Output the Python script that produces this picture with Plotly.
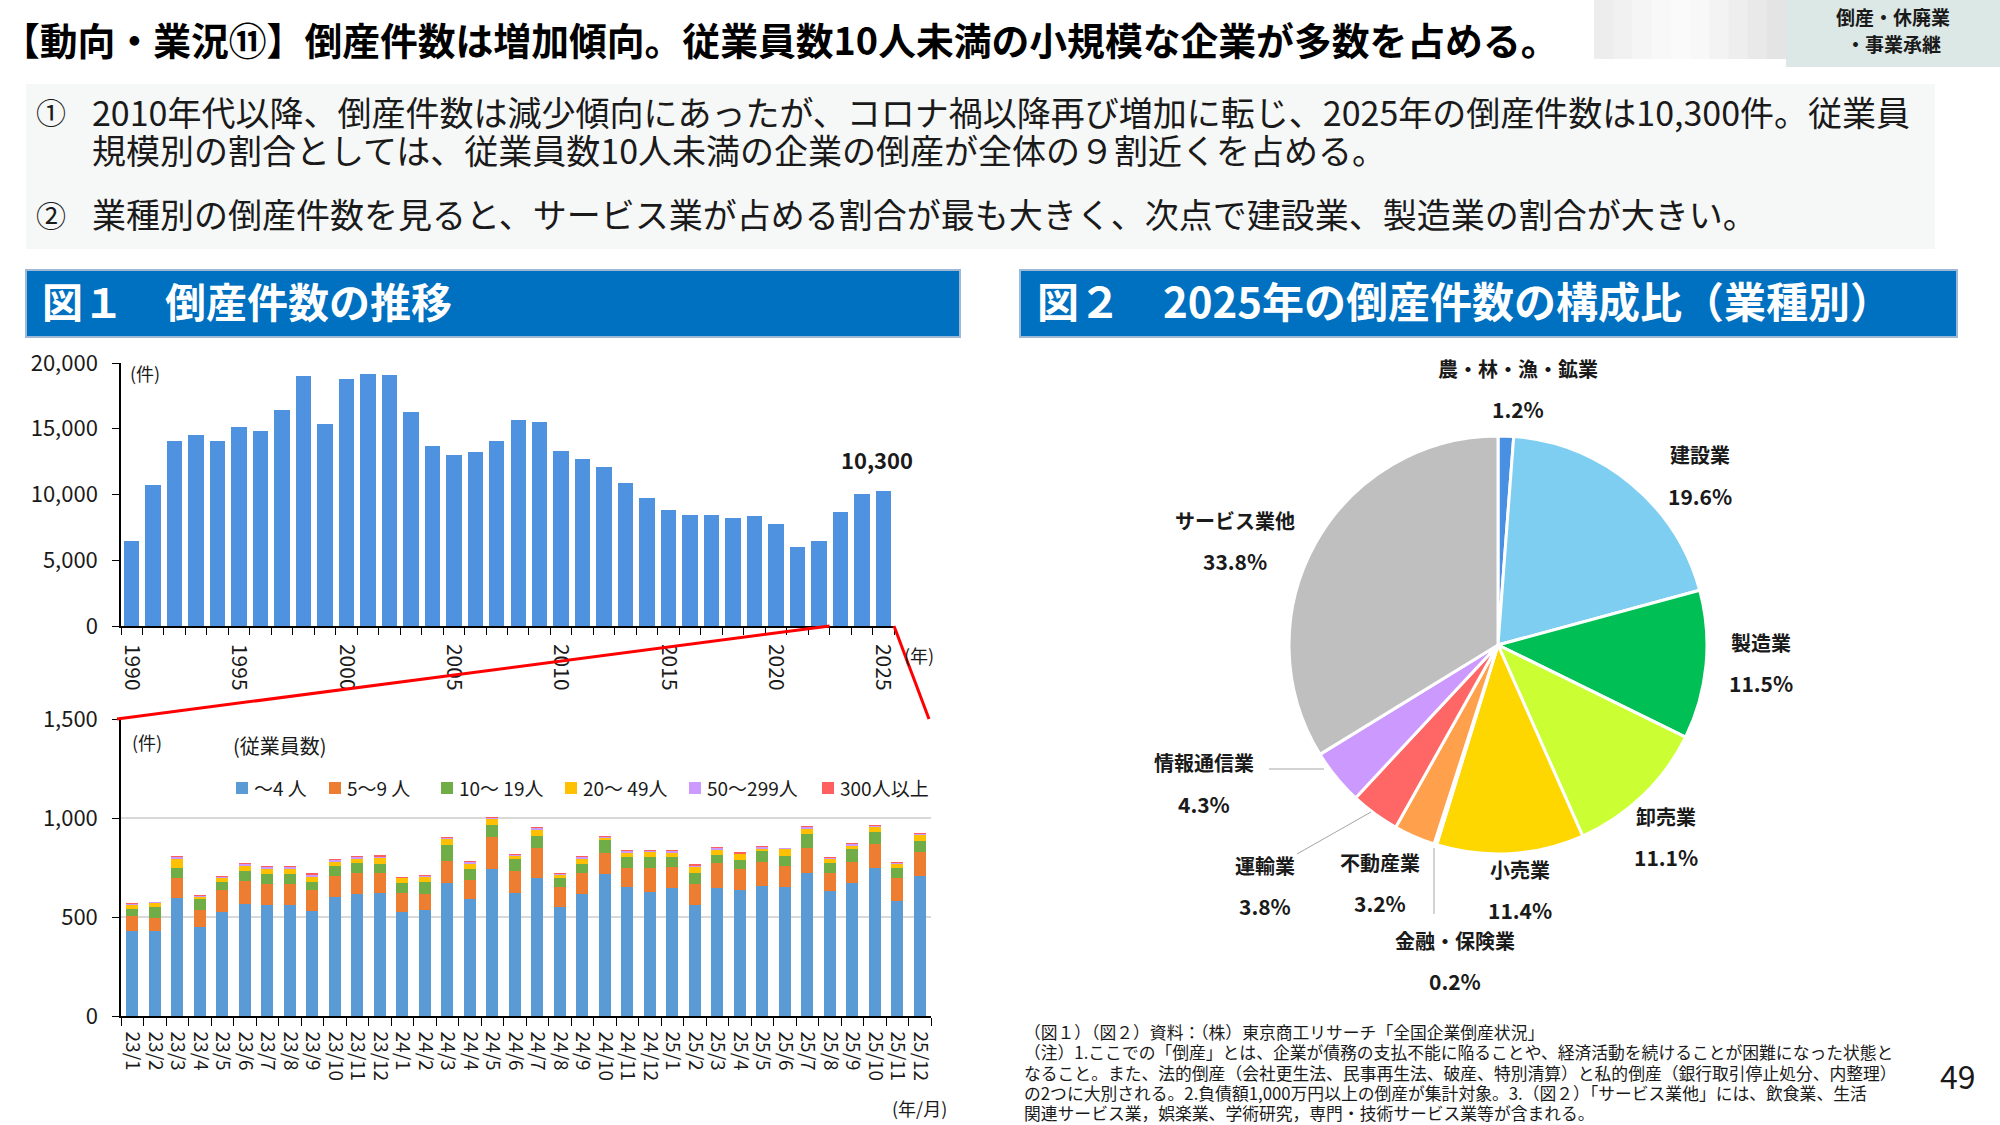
import plotly.graph_objects as go

W, H = 2000, 1125
FONT = "Noto Sans CJK JP"


def px(x):
    return x / W


def py(y):
    return 1 - y / H


# ---------------- data ----------------
years = ["1990", "1991", "1992", "1993", "1994", "1995", "1996", "1997", "1998", "1999",
         "2000", "2001", "2002", "2003", "2004", "2005", "2006", "2007", "2008", "2009",
         "2010", "2011", "2012", "2013", "2014", "2015", "2016", "2017", "2018", "2019",
         "2020", "2021", "2022", "2023", "2024", "2025"]
year_labels = ["1990", "", "", "", "", "1995", "", "", "", "", "2000", "", "", "", "", "2005",
               "", "", "", "", "2010", "", "", "", "", "2015", "", "", "", "", "2020", "", "",
               "", "", "2025"]
annual_counts = [6470, 10720, 14070, 14560, 14060, 15110, 14830, 16460, 18990, 15350,
                 18770, 19160, 19090, 16260, 13680, 13000, 13250, 14090, 15650, 15480,
                 13320, 12730, 12120, 10860, 9730, 8810, 8450, 8410, 8240, 8380,
                 7770, 6030, 6430, 8690, 10010, 10300]

months = ["23/1", "23/2", "23/3", "23/4", "23/5", "23/6", "23/7", "23/8", "23/9", "23/10", "23/11", "23/12",
          "24/1", "24/2", "24/3", "24/4", "24/5", "24/6", "24/7", "24/8", "24/9", "24/10", "24/11", "24/12",
          "25/1", "25/2", "25/3", "25/4", "25/5", "25/6", "25/7", "25/8", "25/9", "25/10", "25/11", "25/12"]
emp_0_4 = [429, 429, 596, 451, 524, 566, 559, 559, 530, 603, 618, 623,
           525, 535, 674, 591, 743, 623, 698, 549, 617, 716, 650, 627,
           647, 559, 647, 635, 657, 650, 723, 630, 671, 747, 579, 706]
emp_5_9 = [76, 64, 100, 86, 111, 118, 110, 107, 105, 105, 103, 98,
           98, 82, 111, 98, 159, 108, 150, 101, 104, 105, 95, 118,
           105, 110, 125, 107, 120, 108, 128, 90, 106, 123, 117, 122]
emp_10_19 = [34, 56, 54, 53, 42, 49, 49, 52, 42, 50, 51, 46,
             48, 59, 78, 54, 63, 61, 61, 46, 48, 69, 56, 59,
             50, 52, 42, 45, 54, 51, 70, 52, 66, 59, 51, 55]
emp_20_49 = [22, 24, 47, 13, 22, 27, 29, 25, 27, 22, 25, 34,
             26, 27, 31, 29, 32, 19, 32, 17, 27, 9, 27, 25,
             26, 34, 29, 32, 15, 36, 28, 24, 20, 27, 22, 33]
emp_50_299 = [6, 1, 9, 6, 6, 8, 9, 12, 12, 9, 8, 7,
              2, 7, 9, 7, 7, 6, 9, 7, 9, 7, 9, 8,
              7, 3, 7, 4, 8, 2, 8, 5, 6, 6, 7, 7]
emp_300_up = [2, 0, 1, 1, 1, 1, 1, 2, 2, 2, 1, 1,
              1, 1, 1, 1, 1, 1, 1, 1, 1, 1, 1, 1,
              1, 6, 1, 1, 1, 0, 1, 1, 1, 1, 1, 1]
emp_names = ["～4 人", "5～9 人", "10～ 19人", "20～ 49人", "50～299人", "300人以上"]
emp_colors = ["#5B9BD5", "#ED7D31", "#70AD47", "#FFC000", "#CC99FF", "#FF5F5F"]
legend_x = [236, 329, 441, 565, 689, 822]   # legend item left edges (px)

industries = ["農・林・漁・鉱業", "建設業", "製造業", "卸売業", "小売業", "金融・保険業",
              "不動産業", "運輸業", "情報通信業", "サービス業他"]
industry_share = [1.2, 19.6, 11.5, 11.1, 11.4, 0.2, 3.2, 3.8, 4.3, 33.8]
industry_colors = ["#4A90E2", "#7ECEF2", "#00BF55", "#CCFF33", "#FFD700", "#9DC3E6",
                   "#FFA04D", "#FF6666", "#CC99FF", "#BFBFBF"]
# label centres (pixels) for the pie labels
label_pos = [(1518, 388), (1700, 475), (1761, 662), (1666, 836), (1520, 889),
             (1455, 960), (1380, 882), (1265, 885), (1204, 783), (1235, 540)]

# ---------------- layout geometry ----------------
X1 = (121, 894)      # annual chart x pixel range
Y1 = (626, 363)      # annual chart y pixels (0 -> 20000)
X2 = (121, 931)      # monthly chart
Y2 = (1016, 719)     # monthly chart (0 -> 1500)

fig = go.Figure()

fig.add_trace(go.Bar(x=years, y=annual_counts, marker=dict(color="#4F93E0", line=dict(width=0)),
                     width=0.72, xaxis="x", yaxis="y", showlegend=False, hoverinfo="x+y"))

for name, vals, col in zip(emp_names, [emp_0_4, emp_5_9, emp_10_19, emp_20_49, emp_50_299, emp_300_up],
                           emp_colors):
    fig.add_trace(go.Bar(x=months, y=vals, name=name, marker=dict(color=col, line=dict(width=0)),
                         width=0.55, xaxis="x2", yaxis="y2", showlegend=False))

fig.add_trace(go.Pie(labels=industries, values=industry_share, sort=False, direction="clockwise",
                     rotation=0, marker=dict(colors=industry_colors, line=dict(color="white", width=3)),
                     textinfo="none", showlegend=False,
                     domain=dict(x=[px(1289), px(1707)], y=[py(854), py(436)])))

axis_font = dict(family=FONT, size=22, color="#1a1a1a")
fig.update_layout(
    template="none",
    width=W, height=H, autosize=False, margin=dict(l=0, r=0, t=0, b=0, pad=0),
    paper_bgcolor="white", plot_bgcolor="rgba(0,0,0,0)",
    font=dict(family=FONT, color="#1a1a1a"),
    barmode="stack", showlegend=False,
    xaxis=dict(domain=[px(X1[0]), px(X1[1])], anchor="y", type="category", automargin=False,
               tickmode="array", tickvals=years, ticktext=year_labels, tickangle=90,
               tickson="boundaries", ticks="outside", ticklen=7, tickcolor="black", tickwidth=1,
               showline=True, linecolor="black", linewidth=1.5, showgrid=False, zeroline=False,
               tickfont=dict(family=FONT, size=21, color="#1a1a1a"), ticklabelstandoff=12,
               range=[-0.5, 35.5]),
    yaxis=dict(domain=[py(Y1[0]), py(Y1[1])], anchor="x", range=[0, 20000], automargin=False,
               tickmode="array", tickvals=[0, 5000, 10000, 15000, 20000], tickformat=",",
               ticks="outside", ticklen=7, tickcolor="black", showline=True, linecolor="black",
               linewidth=1.5, showgrid=False, zeroline=False, tickfont=axis_font,
               ticklabelstandoff=10),
    xaxis2=dict(domain=[px(X2[0]), px(X2[1])], anchor="y2", type="category", automargin=False,
                tickmode="array", tickvals=months, ticktext=months, tickangle=90,
                tickson="boundaries", ticks="outside", ticklen=8, tickcolor="black", tickwidth=1,
                showline=True, linecolor="black", linewidth=1.5, showgrid=False, zeroline=False,
                tickfont=dict(family=FONT, size=19, color="#1a1a1a"), ticklabelstandoff=10,
                range=[-0.5, 35.5]),
    yaxis2=dict(domain=[py(Y2[0]), py(Y2[1])], anchor="x2", range=[0, 1500], automargin=False,
                tickmode="array", tickvals=[0, 500, 1000, 1500], tickformat=",", ticks="outside",
                ticklen=7, tickcolor="black", showline=True, linecolor="black", linewidth=1.5,
                showgrid=True, gridcolor="#D9D9D9", gridwidth=2, zeroline=False,
                tickfont=axis_font, ticklabelstandoff=10),
)

shapes = []
# top right badge (gradient box + teal box)
grad = ["#EDEDED", "#F1F1F1", "#F5F5F5", "#F8F8F8", "#FAFAFA", "#F8F8F8", "#F3F3F3",
        "#EEEEEE", "#E9E9E9", "#E4E4E4"]
gx0, gx1 = 1594, 1786
step = (gx1 - gx0) / len(grad)
for i, c in enumerate(grad):
    shapes.append(dict(type="rect", xref="paper", yref="paper", x0=px(gx0 + i * step),
                       x1=px(gx0 + (i + 1) * step + 0.5), y0=py(59), y1=py(0), fillcolor=c,
                       line=dict(width=0), layer="below"))
shapes.append(dict(type="rect", xref="paper", yref="paper", x0=px(1786), x1=px(2000), y0=py(67),
                   y1=py(0), fillcolor="#DCE8E5", line=dict(width=0), layer="below"))
# summary box
shapes.append(dict(type="rect", xref="paper", yref="paper", x0=px(26), x1=px(1935), y0=py(249),
                   y1=py(84), fillcolor="#F6F7F7", line=dict(width=0), layer="below"))
# blue header boxes
for x0, x1 in [(26, 960), (1020, 1957)]:
    shapes.append(dict(type="rect", xref="paper", yref="paper", x0=px(x0), x1=px(x1), y0=py(337),
                       y1=py(270), fillcolor="#0070C0", line=dict(color="#9DB9D5", width=2),
                       layer="below"))
# red zoom lines from the monthly chart to the annual chart
cat_w = (X1[1] - X1[0]) / 36.0
x_2023_start = X1[0] + 33 * cat_w
shapes.append(dict(type="line", xref="paper", yref="paper", x0=px(X2[0] - 4), y0=py(Y2[1]),
                   x1=px(x_2023_start), y1=py(Y1[0]), line=dict(color="#FF0000", width=3)))
shapes.append(dict(type="line", xref="paper", yref="paper", x0=px(X1[1]), y0=py(Y1[0]),
                   x1=px(X2[1] - 2), y1=py(Y2[1]), line=dict(color="#FF0000", width=3)))
# pie leader lines
for (a, b, c, d) in [(1269, 769, 1324, 769), (1297, 854, 1371, 812), (1434, 848, 1434, 914)]:
    shapes.append(dict(type="line", xref="paper", yref="paper", x0=px(a), y0=py(b), x1=px(c),
                       y1=py(d), line=dict(color="#A6A6A6", width=1)))
# legend colour squares
for lx, col in zip(legend_x, emp_colors):
    shapes.append(dict(type="rect", xref="paper", yref="paper", x0=px(lx), x1=px(lx + 12),
                       y0=py(794), y1=py(782), fillcolor=col, line=dict(width=0)))
fig.update_layout(shapes=shapes)

ann = []


def text(x, y, s, size, color="#1a1a1a", xanchor="left", bold=False, yanchor="middle"):
    ann.append(dict(x=px(x), y=py(y), xref="paper", yref="paper", text=("<b>%s</b>" % s) if bold else s,
                    showarrow=False, xanchor=xanchor, yanchor=yanchor,
                    font=dict(family=FONT, size=size, color=color)))


text(0, 38, "【動向・業況⑪】倒産件数は増加傾向。従業員数10人未満の小規模な企業が多数を占める。", 37.8,
     color="#000000", bold=True)
text(1893, 17, "倒産・休廃業", 19, color="#1a1a1a", xanchor="center", bold=True)
text(1893, 43, "・事業承継", 19, color="#1a1a1a", xanchor="center", bold=True)

text(34, 111, "①", 30)
text(90, 111, "2010年代以降、倒産件数は減少傾向にあったが、コロナ禍以降再び増加に転じ、2025年の倒産件数は10,300件。従業員", 34)
text(90, 149, "規模別の割合としては、従業員数10人未満の企業の倒産が全体の９割近くを占める。", 34)
text(34, 214, "②", 30)
text(90, 214, "業種別の倒産件数を見ると、サービス業が占める割合が最も大きく、次点で建設業、製造業の割合が大きい。", 34)

text(40, 300, "図１　倒産件数の推移", 41, color="white", bold=True)
text(1035, 300, "図２　2025年の倒産件数の構成比（業種別）", 42, color="white", bold=True)

# annual chart labels
text(128, 373, "(件)", 18)
text(902, 655, "(年)", 18)
ann.append(dict(x=years.index("2025"), y=annual_counts[-1], xref="x", yref="y",
                text="<b>10,300</b>", showarrow=False, yanchor="bottom", yshift=14, xshift=-6,
                font=dict(family=FONT, size=22, color="#1a1a1a")))

# monthly chart labels + legend text
text(130, 742, "(件)", 18)
text(231, 745, "(従業員数)", 20)
text(890, 1108, "(年/月)", 18)
for lx, name in zip(legend_x, emp_names):
    text(lx + 16, 787, name, 19)

# pie labels
for name, val, (lx, ly) in zip(industries, industry_share, label_pos):
    text(lx, ly - 20, name, 20, xanchor="center", bold=True)
    text(lx, ly + 21, "%.1f%%" % val, 21, xanchor="center", bold=True)

# footnotes
notes = ["（図１）（図２）資料：（株）東京商工リサーチ「全国企業倒産状況」",
         "（注）1.ここでの「倒産」とは、企業が債務の支払不能に陥ることや、経済活動を続けることが困難になった状態と",
         "なること。また、法的倒産（会社更生法、民事再生法、破産、特別清算）と私的倒産（銀行取引停止処分、内整理）",
         "の2つに大別される。2.負債額1,000万円以上の倒産が集計対象。3.（図２）「サービス業他」には、飲食業、生活",
         "関連サービス業，娯楽業、学術研究，専門・技術サービス業等が含まれる。"]
for i, s in enumerate(notes):
    text(1022, 1032 + i * 20.3, s, 16.8)

text(1958, 1075, "49", 32, xanchor="center")

fig.update_layout(annotations=ann)
fig.write_html("out.html")
